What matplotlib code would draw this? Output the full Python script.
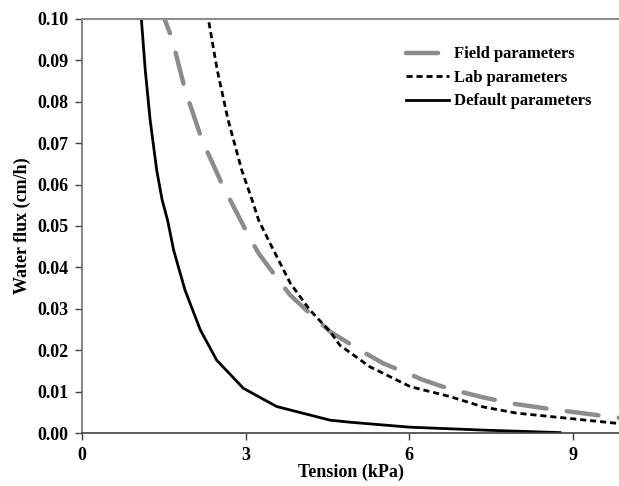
import matplotlib
matplotlib.use("Agg")
import matplotlib.pyplot as plt

plt.rcParams['font.family'] = ['Liberation Serif', 'DejaVu Serif']
plt.rcParams['font.weight'] = 'bold'

# Data
default_x = [1.05, 1.09, 1.16, 1.25, 1.37, 1.47, 1.57, 1.68, 1.89, 2.17, 2.47, 2.96, 3.57,
             4.55, 4.92, 6.02, 7.36, 8.77]
default_y = [0.106, 0.0998, 0.0877, 0.0756, 0.0635, 0.0563, 0.0514, 0.0442, 0.0345, 0.0249,
             0.0176, 0.0108, 0.0064, 0.0031, 0.0026, 0.0014, 0.0007, 0.0001]

lab_x = [2.28, 2.32, 2.48, 2.68, 2.93, 3.14, 3.24, 3.45, 3.82, 4.18, 4.55, 4.73, 5.28, 6.02,
         6.75, 7.36, 7.97, 8.95, 9.84]
lab_y = [0.104, 0.0998, 0.0877, 0.0756, 0.0635, 0.0555, 0.0514, 0.0458, 0.0362, 0.0297,
         0.0245, 0.0212, 0.0160, 0.0112, 0.0088, 0.0063, 0.0048, 0.0035, 0.0023]

field_x = [1.45, 1.52, 1.65, 1.89, 2.20, 2.59, 2.78, 3.05, 3.24, 3.60, 3.82, 4.21, 4.55, 5.10,
           5.53, 6.26, 6.75, 7.36, 7.85, 8.47, 9.69, 9.85]
field_y = [0.104, 0.0998, 0.0953, 0.0829, 0.0708, 0.0595, 0.0547, 0.0478, 0.0434, 0.0370,
           0.0333, 0.0285, 0.0245, 0.0200, 0.0168, 0.0128, 0.0106, 0.0086, 0.0072, 0.0060,
           0.0039, 0.0037]

x_ticks = [0, 3, 6, 9]
y_ticks = [0.00, 0.01, 0.02, 0.03, 0.04, 0.05, 0.06, 0.07, 0.08, 0.09, 0.10]

fig = plt.figure(figsize=(6.19, 4.86), dpi=100)
ax = fig.add_axes([82/619, 1-433/486, 1-82/619, (433-19)/486])

ax.plot(field_x, field_y, color='#8c8c8c', lw=3.2, dashes=(7.2, 4.6), label='Field parameters',
        dash_capstyle='round')
ax.plot(lab_x, lab_y, color='black', lw=2.0, dashes=(2.2, 1.4), label='Lab parameters')
ax.plot(default_x, default_y, color='black', lw=2.0, label='Default parameters')

ax.set_xlim(0, 9.85)
ax.set_ylim(0, 0.1)
ax.set_xticks(x_ticks)
ax.set_yticks(y_ticks)
ax.set_yticklabels([f"{v:.2f}" for v in y_ticks])
ax.tick_params(axis='both', labelsize=13, direction='out', length=5, width=1, colors='#404040',
               labelcolor='black')
ax.tick_params(axis='x', pad=5)
ax.tick_params(axis='y', pad=5)

ax.spines['right'].set_visible(False)
ax.spines['top'].set_color('#8c8c8c')
ax.spines['top'].set_linewidth(1.5)
ax.spines['left'].set_color('#707070')
ax.spines['left'].set_linewidth(1.2)
ax.spines['bottom'].set_color('#404040')
ax.spines['bottom'].set_linewidth(1.2)

ax.set_xlabel('Tension (kPa)', fontsize=13, fontweight='bold', labelpad=0)
ax.set_ylabel('Water flux (cm/h)', fontsize=13, fontweight='bold', labelpad=4)

leg = ax.legend(loc='upper right', bbox_to_anchor=(0.977, 0.97), frameon=False, fontsize=12,
                handlelength=2.6, handletextpad=0.3, labelspacing=0.45)

fig.savefig('out.png', dpi=100)
